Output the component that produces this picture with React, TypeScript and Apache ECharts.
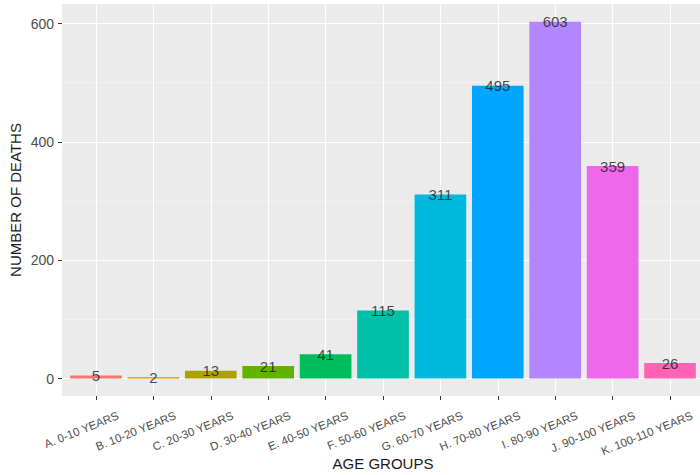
import React, { useEffect, useRef } from "react";
import * as echarts from "echarts";

const categories = [
  "A. 0-10 YEARS",
  "B. 10-20 YEARS",
  "C. 20-30 YEARS",
  "D. 30-40 YEARS",
  "E. 40-50 YEARS",
  "F. 50-60 YEARS",
  "G. 60-70 YEARS",
  "H. 70-80 YEARS",
  "I. 80-90 YEARS",
  "J. 90-100 YEARS",
  "K. 100-110 YEARS",
];
const deaths = [5, 2, 13, 21, 41, 115, 311, 495, 603, 359, 26];
const barColors = [
  "#F8766D", "#DB8E00", "#AEA200", "#64B200", "#00BD5C", "#00C1A7",
  "#00BADE", "#00A6FF", "#B385FF", "#EF67EB", "#FF63B6",
];
const yTicks = [0, 200, 400, 600];
const yTitle = "NUMBER OF DEATHS";
const xTitle = "AGE GROUPS";

const FONT = "'Liberation Sans', Arial, Helvetica, sans-serif";

export default function App() {
  const ref = useRef<HTMLDivElement>(null);
  useEffect(() => {
    document.body.style.margin = "0";
    if (!ref.current) return;
    const chart = echarts.init(ref.current, null, { renderer: "svg" });
    const yMin = yTicks[0];
    const yMax = yTicks[yTicks.length - 1];
    const yInterval = yTicks[1] - yTicks[0];
    const option: any = {
      animation: false,
      backgroundColor: "#ffffff",
      textStyle: { fontFamily: FONT },
      grid: [
        { left: 62, width: 643, top: 4, height: 392, show: true, backgroundColor: "#EBEBEB", borderWidth: 0 },
        { left: 62, width: 643, top: 23.5, height: 355 },
        { left: 96, width: 574, top: 4, height: 392 },
        { left: 118, width: 574, top: 4, height: 392 },
        { left: 67.3, width: 631.4, top: 23.5, height: 355 },
      ],
      xAxis: [
        { gridIndex: 0, type: "value", show: false },
        { gridIndex: 1, type: "value", show: false },
        {
          gridIndex: 2,
          type: "category",
          data: categories,
          boundaryGap: false,
          axisLine: { show: false },
          axisTick: { show: true, interval: 0, length: 4, lineStyle: { color: "#333333", width: 1 } },
          axisLabel: { show: false, interval: 0 },
          splitLine: { show: true, interval: 0, lineStyle: { color: "#ffffff", width: 1.1 } },
        },
        {
          gridIndex: 3,
          type: "category",
          data: categories,
          boundaryGap: false,
          axisLine: { show: false },
          axisTick: { show: false },
          axisLabel: {
            show: true,
            interval: 0,
            rotate: 22,
            margin: 19,
            fontSize: 11.5,
            color: "#4D4D4D",
            fontFamily: FONT,
          },
          splitLine: { show: false },
        },
        { gridIndex: 4, type: "category", data: categories, boundaryGap: true, show: false },
      ],
      yAxis: [
        { gridIndex: 0, type: "value", show: false },
        {
          gridIndex: 1,
          type: "value",
          min: yMin,
          max: yMax,
          interval: yInterval,
          axisLine: { show: false },
          axisTick: { show: true, length: 4, lineStyle: { color: "#333333", width: 1 } },
          axisLabel: { show: true, fontSize: 14, color: "#4D4D4D", margin: 8, fontFamily: FONT },
          splitLine: { show: true, lineStyle: { color: "#ffffff", width: 1.1 } },
          minorTick: { show: false, splitNumber: 2 },
          minorSplitLine: { show: true, lineStyle: { color: "#F7F7F7", width: 0.6 } },
        },
        { gridIndex: 2, type: "value", show: false },
        { gridIndex: 3, type: "value", show: false },
        { gridIndex: 4, type: "value", min: yMin, max: yMax, show: false },
      ],
      series: [
        {
          type: "bar",
          xAxisIndex: 4,
          yAxisIndex: 4,
          barWidth: "90%",
          clip: false,
          data: deaths.map((v, i) => ({ value: v, itemStyle: { color: barColors[i] } })),
        },
        {
          type: "scatter",
          xAxisIndex: 4,
          yAxisIndex: 4,
          clip: false,
          symbolSize: 1,
          itemStyle: { color: "rgba(0,0,0,0)" },
          data: deaths,
          label: {
            show: true,
            position: "inside",
            formatter: (p: any) => String(p.value),
            fontSize: 15,
            color: "#1a1a1a",
            fontFamily: FONT,
          },
          z: 5,
        },
      ],
      graphic: [
        {
          type: "text",
          x: 15,
          y: 200,
          rotation: Math.PI / 2,
          style: {
            text: yTitle,
            fontSize: 15,
            fontFamily: FONT,
            fill: "#1a1a1a",
            align: "center",
            verticalAlign: "middle",
          },
        },
        {
          type: "text",
          x: 383,
          y: 463,
          style: {
            text: xTitle,
            fontSize: 15,
            fontFamily: FONT,
            fill: "#1a1a1a",
            align: "center",
            verticalAlign: "middle",
          },
        },
      ],
    };
    chart.setOption(option);
    return () => chart.dispose();
  }, []);
  return <div ref={ref} style={{ width: 700, height: 475 }} />;
}
